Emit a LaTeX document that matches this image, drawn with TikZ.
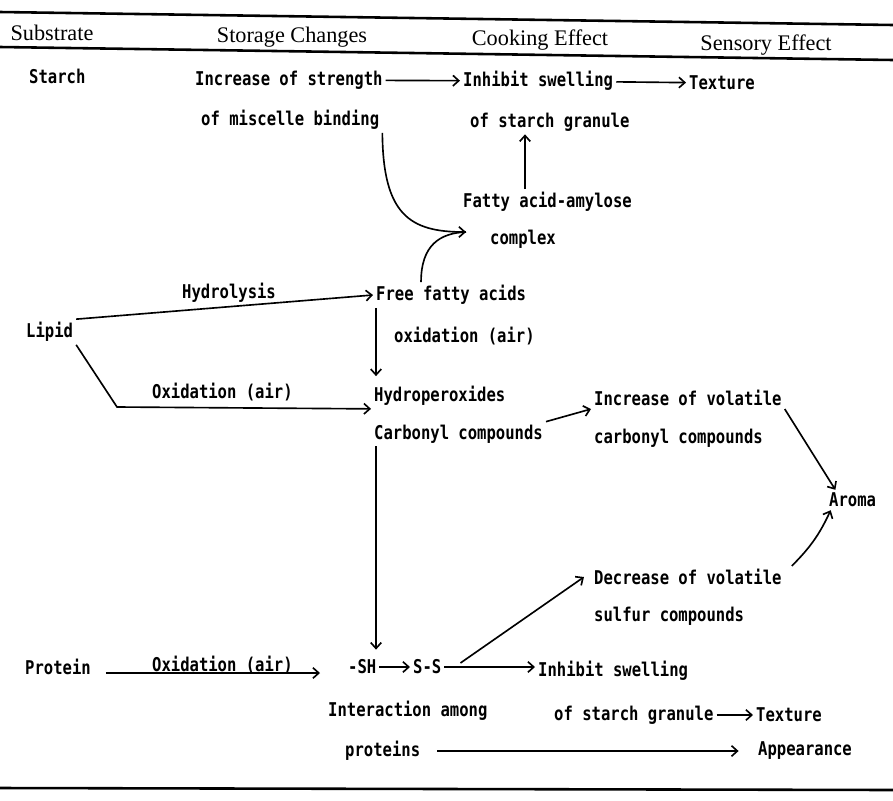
\documentclass[tikz,border=0pt]{standalone}
\usepackage{fontspec}
\setmainfont{Liberation Serif}
\newfontfamily\tw[FakeStretch=0.82]{DejaVu Sans Mono}
\usetikzlibrary{arrows,arrows.meta}

\begin{document}
\begin{tikzpicture}[x=0.03cm,y=-0.03cm,line width=1.4pt,>={Straight Barb[length=5pt,width=9pt]},
txt/.style={font=\tw\bfseries\fontsize{16.2}{18}\selectfont,anchor=west,inner sep=2pt},
hd/.style={font=\fontsize{19}{22}\selectfont,inner sep=2pt}]
\useasboundingbox (0,0) rectangle (893,800);
\draw[line width=2.2pt](0,12)--(893,25)(0,47)--(893,60)(0,788)--(893,790);
\node[hd] (hsub) at (52,33) {Substrate};
\node[hd] (hsto) at (292,37) {Storage Changes};
\node[hd] (hcoo) at (540,40) {Cooking Effect};
\node[hd] (hsen) at (766,45) {Sensory Effect};
\node[txt] (sta) at (26,76) {Starch};
\node[txt] (inc) at (192,80) {Increase of strength};
\node[txt] (mis) at (198,120) {of miscelle binding};
\node[txt] (inh) at (460,81) {Inhibit swelling};
\node[txt] (gra) at (467,122) {of starch granule};
\node[txt] (tex) at (686,83) {Texture};
\node[txt] (fat) at (460,202) {Fatty acid-amylose};
\node[txt] (com) at (487,239) {complex};
\node[txt] (hyd) at (179,293) {Hydrolysis};
\node[txt] (ffa) at (373,295) {Free fatty acids};
\node[txt] (lip) at (23,332) {Lipid};
\node[txt] (oxa) at (391,336) {oxidation (air)};
\node[txt] (oxl) at (149,392) {Oxidation (air)};
\node[txt] (hpo) at (371,396) {Hydroperoxides};
\node[txt] (car) at (371,434) {Carbonyl compounds};
\node[txt] (ivo) at (591,398) {Increase of volatile};
\node[txt] (cc2) at (591,438) {carbonyl compounds};
\node[txt] (aro) at (826,500) {Aroma};
\node[txt] (dvo) at (591,577) {Decrease of volatile};
\node[txt] (sul) at (591,616) {sulfur compounds};
\node[txt] (pro) at (22,667) {Protein};
\node[txt,anchor=base west] (oxp) at (149,671) {Oxidation (air)};
\node[txt] (sh) at (345,667) {-SH};
\node[txt] (ss) at (410,667) {S-S};
\node[txt] (inh2) at (535,671) {Inhibit swelling};
\node[txt] (int) at (325,711) {Interaction among};
\node[txt] (gra2) at (551,715) {of starch granule};
\node[txt] (tex2) at (753,715) {Texture};
\node[txt] (prt) at (342,751) {proteins};
\node[txt] (app) at (755,751) {Appearance};
\coordinate (fa) at (525,0);
\coordinate (vx) at (376,0);
\coordinate (jn) at (466,232);
\draw[->](inc)--(inh);
\draw[->](inh)--(tex);
\draw[->](fat.north-|fa)--(gra.south-|fa);
\draw[->](mis.south east)..controls(383,215)and(410,232)..(jn);
\draw([xshift=41pt]ffa.north west)..controls(421,245)and(440,233)..(jn);
\draw[->](lip.north east)--(ffa.west);
\draw[->](lip.south east)--(117,407)--(hpo.south west);
\draw[->,shorten >=6pt](ffa.south-|vx)--(hpo.north-|vx);
\draw[->](car.north east)--(ivo.south west);
\draw[->](ivo.south east)--([xshift=8pt]aro.north west);
\draw[->]([xshift=6pt]dvo.north east) to[bend right=10]([xshift=4pt]aro.south west);
\draw[->,shorten >=6pt](car.south-|vx)--(sh.north-|vx);
\draw[->]([shift={(12,6)}]pro.east)--([shift={(-25,6)}]sh.west);
\draw[->](sh)--(ss);
\draw[->](ss.east)--(inh2.west|-ss.east);
\draw[->]([shift={(16,-4)}]ss.east)--([xshift=-6pt]dvo.west);
\draw[->](gra2)--(tex2);
\draw[->,shorten <=12pt,shorten >=14pt](prt)--(app);
\end{tikzpicture}
\end{document}
